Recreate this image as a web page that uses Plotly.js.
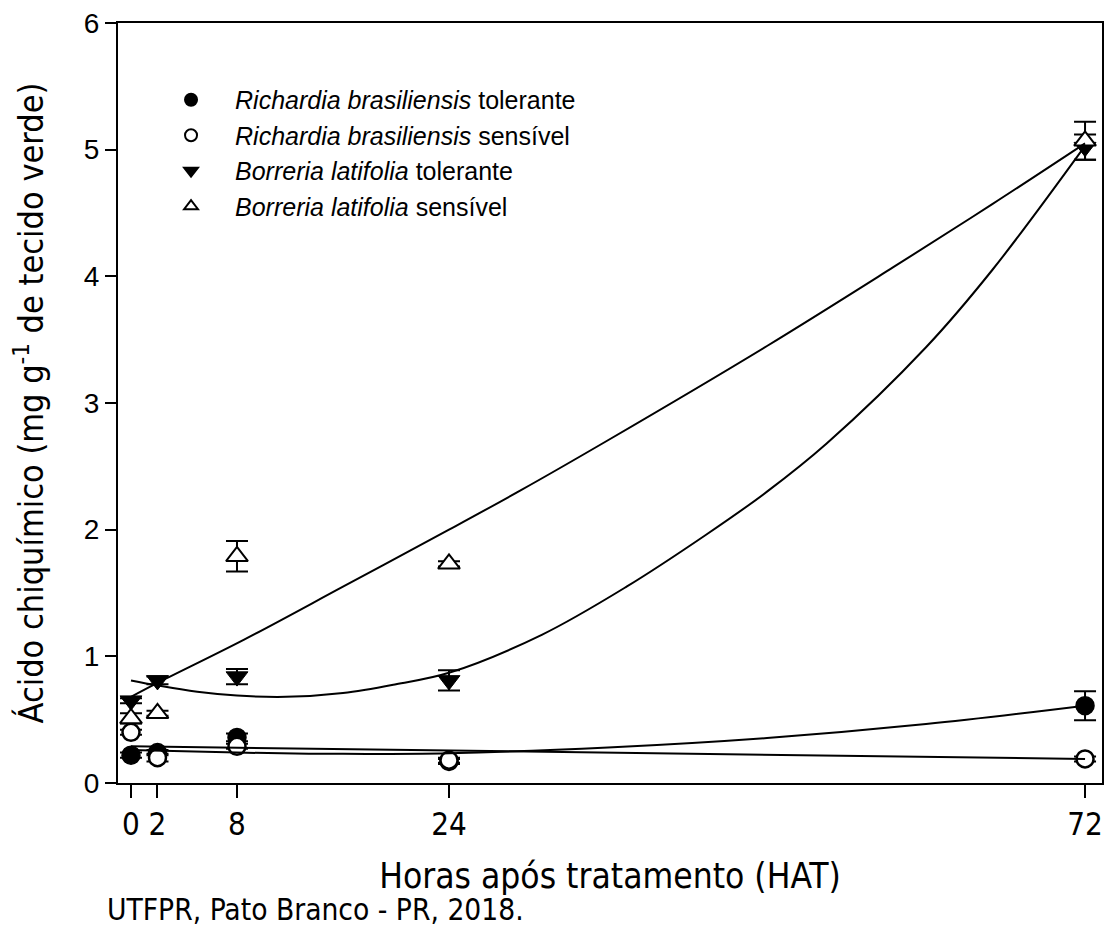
<!DOCTYPE html>
<html>
<head>
<meta charset="utf-8">
<script src="https://cdn.plot.ly/plotly-3.0.1.min.js"></script>
<style>html,body{margin:0;padding:0;background:#fff;}#chart{width:1108px;height:926px;}</style>
</head>
<body>
<div id="chart"></div>
<script>
// Observed hours
const hours = [0, 2, 8, 24, 72];
const xTickVals = [0, 2, 8, 24, 72];
const xTickText = ['0', '2', '8', '24', '72'];
const yTickVals = [0, 1, 2, 3, 4, 5, 6];

// Means (mg g-1)
const rbTolerante = [0.22, 0.24, 0.36, 0.17, 0.61];
const rbToleranteErr = [0.02, 0.02, 0.03, 0.02, 0.115];
const rbSensivel = [0.40, 0.20, 0.29, 0.18, 0.19];
const rbSensivelErr = [0.02, 0.03, 0.02, 0.02, 0.02];
const blTolerante = [0.65, 0.81, 0.84, 0.81, 5.02];
const blToleranteErr = [0.02, 0.03, 0.06, 0.08, 0.10];
const blSensivel = [0.51, 0.55, 1.79, 1.73, 5.07];
const blSensivelErr = [0.04, 0.02, 0.12, 0.02, 0.15];

// Fitted regression curves
const fitRbTolX = [0, 8, 16, 24, 36, 48, 60, 72];
const fitRbTolY = [0.26, 0.24, 0.23, 0.235, 0.28, 0.355, 0.465, 0.61];
const fitRbSenX = [0, 72];
const fitRbSenY = [0.29, 0.19];
const fitBlTolX = [0, 2, 5, 8, 11.7, 16, 20, 24, 31, 37.4, 43.4, 48, 52.5, 60, 65, 72];
const fitBlTolY = [0.81, 0.77, 0.72, 0.69, 0.68, 0.71, 0.78, 0.87, 1.17, 1.55, 1.96, 2.3, 2.68, 3.44, 4.05, 5.03];
const fitBlSenX = [0, 2, 8.5, 16, 24, 29.4, 35.9, 48, 57.5, 65, 72];
const fitBlSenY = [0.68, 0.79, 1.13, 1.55, 2.0, 2.31, 2.7, 3.45, 4.07, 4.57, 5.05];

const legendNames = [
  '<i>Richardia brasiliensis</i> tolerante',
  '<i>Richardia brasiliensis</i> sensível',
  '<i>Borreria latifolia</i> tolerante',
  '<i>Borreria latifolia</i> sensível'
];
const xTitle = 'Horas após tratamento (HAT)';
const yTitlePlain = 'Ácido chiquímico (mg g-1 de tecido verde)';
const yTitle = 'Ácido chiquímico (mg g<sup>-1</sup> de tecido verde)';
const credit = 'UTFPR, Pato Branco - PR, 2018.';

// pick a condensed font if one is installed
const cv = document.createElement('canvas').getContext('2d');
function textW(txt, fam, size) { cv.font = size + 'px ' + fam; return cv.measureText(txt).width; }
function hasFont(name) {
  const probe = 'abcdefghijklmWWMMiil0123';
  return textW(probe, '"' + name + '", monospace', 60) !== textW(probe, 'monospace', 60) ||
         textW(probe, '"' + name + '", serif', 60) !== textW(probe, 'serif', 60);
}
const base = '"Liberation Sans"';
const narrowName = ['Liberation Sans Narrow', 'DejaVu Sans Condensed', 'Roboto Condensed', 'Arial Narrow'].find(hasFont);
const narrow = narrowName ? '"' + narrowName + '", "Liberation Sans", sans-serif' : '"Liberation Sans", sans-serif';
function narrowSize(txt, lsSize) {
  if (!narrowName) return lsSize;
  return lsSize * textW(txt, base, 100) / textW(txt, '"' + narrowName + '"', 100);
}
const regular = '"Liberation Sans", Arial, sans-serif';

function errOpts(arr) {
  return {type: 'data', array: arr, visible: true, color: '#000', thickness: 2, width: 11};
}

const data = [
  {x: hours, y: rbTolerante, error_y: errOpts(rbToleranteErr), mode: 'markers', type: 'scatter',
   name: legendNames[0], marker: {symbol: 'circle', size: 18, color: '#000', line: {color: '#000', width: 1.5}}},
  {x: hours, y: rbSensivel, error_y: errOpts(rbSensivelErr), mode: 'markers', type: 'scatter',
   name: legendNames[1], marker: {symbol: 'circle', size: 17, color: '#fff', line: {color: '#000', width: 2.5}}},
  {x: hours, y: blTolerante, error_y: errOpts(blToleranteErr), mode: 'markers', type: 'scatter',
   name: legendNames[2], marker: {symbol: 'triangle-down', size: 19, color: '#000', line: {color: '#000', width: 1}}},
  {x: hours, y: blSensivel, error_y: errOpts(blSensivelErr), mode: 'markers', type: 'scatter',
   name: legendNames[3], marker: {symbol: 'triangle-up', size: 19, color: '#fff', line: {color: '#000', width: 2}}},
  {x: fitRbTolX, y: fitRbTolY, mode: 'lines', type: 'scatter', showlegend: false, line: {color: '#000', width: 2, shape: 'spline'}},
  {x: fitRbSenX, y: fitRbSenY, mode: 'lines', type: 'scatter', showlegend: false, line: {color: '#000', width: 2}},
  {x: fitBlTolX, y: fitBlTolY, mode: 'lines', type: 'scatter', showlegend: false, line: {color: '#000', width: 2, shape: 'spline'}},
  {x: fitBlSenX, y: fitBlSenY, mode: 'lines', type: 'scatter', showlegend: false, line: {color: '#000', width: 2, shape: 'spline'}}
];

const layout = {
  width: 1108, height: 926,
  margin: {l: 118, r: 6, t: 23, b: 143},
  paper_bgcolor: '#fff', plot_bgcolor: '#fff',
  showlegend: true,
  legend: {
    x: 0.0295, y: 0.929, xanchor: 'left', yanchor: 'top',
    font: {family: regular, size: 25, color: '#000'},
    bgcolor: 'rgba(0,0,0,0)', itemsizing: 'constant', itemwidth: 78, tracegroupgap: 0
  },
  xaxis: {
    range: [-0.98, 73.28], tickvals: xTickVals, ticktext: xTickText,
    showgrid: false, zeroline: false, showline: true, mirror: true,
    linecolor: '#000', linewidth: 2, ticks: 'outside', ticklen: 13, tickwidth: 2, tickcolor: '#000',
    tickfont: {family: narrow, size: narrowSize('72', 32), color: '#000'},
    title: {text: xTitle, font: {family: narrow, size: narrowSize(xTitle, 35.4), color: '#000'}, standoff: 22}
  },
  yaxis: {
    range: [0, 6], tickvals: yTickVals,
    showgrid: false, zeroline: false, showline: true, mirror: true,
    linecolor: '#000', linewidth: 2, ticks: 'outside', ticklen: 11, tickwidth: 2, tickcolor: '#000',
    tickfont: {family: regular, size: 28, color: '#000'},
    title: {text: yTitle, font: {family: narrow, size: narrowSize(yTitlePlain, 34.7), color: '#000'}, standoff: 30}
  },
  annotations: [
    {text: credit, xref: 'paper', yref: 'paper',
     x: -0.013, y: -0.166, xanchor: 'left', yanchor: 'middle', showarrow: false,
     font: {family: narrow, size: narrowSize(credit, 28.3), color: '#000'}}
  ]
};

Plotly.newPlot('chart', data, layout, {displayModeBar: false, staticPlot: true});
</script>
</body>
</html>
